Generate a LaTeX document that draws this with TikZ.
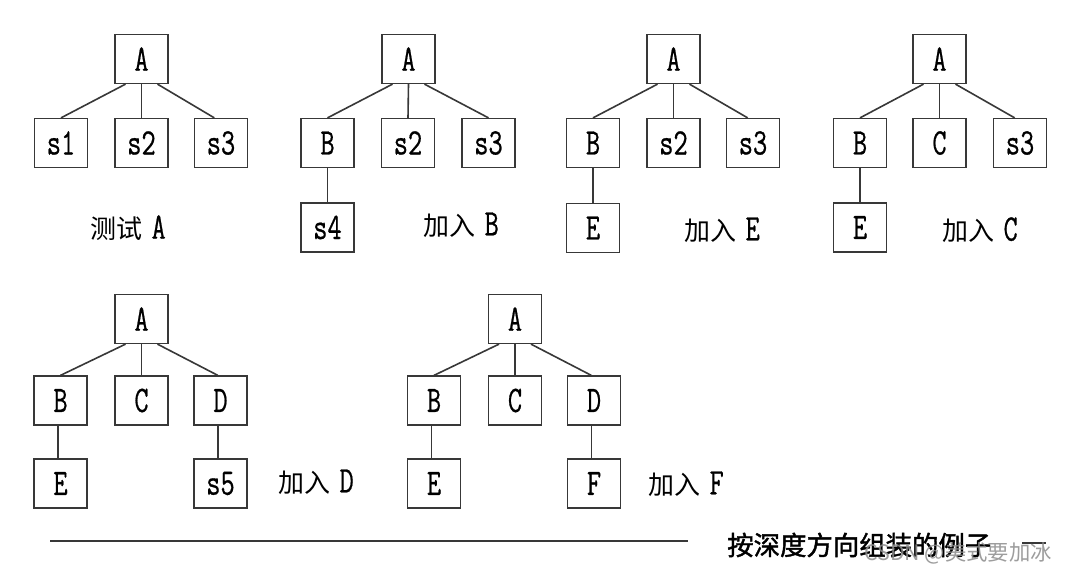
\documentclass[tikz,border=0pt]{standalone}
\usepackage{fontspec}
\usepackage{graphicx}
\newfontfamily\cjk{Noto Sans CJK SC}
\newfontfamily\cjkb[FakeBold=1.5]{Noto Sans CJK SC}
\newfontfamily\boxfont[FakeBold=0.7]{Latin Modern Mono}
\newcommand\bletter[1]{\scalebox{0.74}[1]{\fontsize{28}{28}\selectfont\boxfont #1}}
\tikzset{
  box/.style={draw=black!78, line width=1.2pt, minimum width=40pt, minimum height=36.5pt, inner sep=0pt, fill=white},
  edge/.style={draw=black!78, line width=1.2pt},
  lab/.style={inner sep=0pt, font=\cjk\fontsize{19.5}{20}\selectfont},
}
\newcommand\gap{\hspace{7pt}}
\begin{document}
\begin{tikzpicture}[x=0.75pt, y=-0.75pt]
\path[use as bounding box, fill=white] (0,0) rectangle (1068,572);

% ---- Tree 1: 测试 A
\node[box] (t1a)  at (141.5,59)  {\bletter{A}};
\node[box] (t1s1) at (61,143)    {\bletter{s1}};
\node[box] (t1s2) at (141.5,143) {\bletter{s2}};
\node[box] (t1s3) at (221,143)   {\bletter{s3}};
\draw[edge] ([xshift=-12pt]t1a.south) -- (t1s1.north);
\draw[edge] (t1a.south) -- (t1s2.north);
\draw[edge] ([xshift=12pt]t1a.south) -- ([xshift=-5pt]t1s3.north);
\node[lab] (t1l) at (128,228) {测试\gap\bletter{A}};

% ---- Tree 2: 加入 B
\node[box] (t2a)  at (408.5,59)  {\bletter{A}};
\node[box] (t2b)  at (327.5,143) {\bletter{B}};
\node[box] (t2s2) at (408,143)   {\bletter{s2}};
\node[box] (t2s3) at (488.5,143) {\bletter{s3}};
\node[box] (t2s4) at (327.5,227.5) {\bletter{s4}};
\draw[edge] ([xshift=-12pt]t2a.south) -- (t2b.north);
\draw[edge] (t2a.south) -- (t2s2.north);
\draw[edge] ([xshift=12pt]t2a.south) -- (t2s3.north);
\draw[edge] (t2b.south) -- (t2s4.north);
\node[lab] (t2l) at (461,225) {加入\gap\bletter{B}};

% ---- Tree 3: 加入 E
\node[box] (t3a)  at (673.5,59)  {\bletter{A}};
\node[box] (t3b)  at (593,143)   {\bletter{B}};
\node[box] (t3s2) at (673.5,143) {\bletter{s2}};
\node[box] (t3s3) at (753,143)   {\bletter{s3}};
\node[box] (t3e)  at (593,228)   {\bletter{E}};
\draw[edge] ([xshift=-12pt]t3a.south) -- (t3b.north);
\draw[edge] (t3a.south) -- (t3s2.north);
\draw[edge] ([xshift=12pt]t3a.south) -- ([xshift=-4pt]t3s3.north);
\draw[edge] (t3b.south) -- (t3e.north);
\node[lab] (t3l) at (722,230) {加入\gap\bletter{E}};

% ---- Tree 4: 加入 C
\node[box] (t4a)  at (939.5,59)  {\bletter{A}};
\node[box] (t4b)  at (860,143)   {\bletter{B}};
\node[box] (t4c)  at (939.5,143) {\bletter{C}};
\node[box] (t4s3) at (1020,143)  {\bletter{s3}};
\node[box] (t4e)  at (860,227.5) {\bletter{E}};
\draw[edge] ([xshift=-12pt]t4a.south) -- (t4b.north);
\draw[edge] (t4a.south) -- (t4c.north);
\draw[edge] ([xshift=12pt]t4a.south) -- ([xshift=-4pt]t4s3.north);
\draw[edge] (t4b.south) -- (t4e.north);
\node[lab] (t4l) at (980,230) {加入\gap\bletter{C}};

% ---- Tree 5: 加入 D
\node[box] (t5a)  at (141.5,319)   {\bletter{A}};
\node[box] (t5b)  at (60.5,400.5)  {\bletter{B}};
\node[box] (t5c)  at (141.5,400.5) {\bletter{C}};
\node[box] (t5d)  at (220.5,400.5) {\bletter{D}};
\node[box] (t5e)  at (60.5,483.5)  {\bletter{E}};
\node[box] (t5s5) at (220.5,483.5) {\bletter{s5}};
\draw[edge] ([xshift=-12pt]t5a.south) -- (t5b.north);
\draw[edge] (t5a.south) -- (t5c.north);
\draw[edge] ([xshift=12pt]t5a.south) -- ([xshift=-2pt]t5d.north);
\draw[edge] ([xshift=-2pt]t5b.south) -- ([xshift=-2pt]t5e.north);
\draw[edge] ([xshift=-2pt]t5d.south) -- ([xshift=-2pt]t5s5.north);
\node[lab] (t5l) at (316,482) {加入\gap\bletter{D}};

% ---- Tree 6: 加入 F
\node[box] (t6a)  at (515,319)   {\bletter{A}};
\node[box] (t6b)  at (434,400.5) {\bletter{B}};
\node[box] (t6c)  at (515,400.5) {\bletter{C}};
\node[box] (t6d)  at (594,400.5) {\bletter{D}};
\node[box] (t6e)  at (434,483.5) {\bletter{E}};
\node[box] (t6f)  at (594,483.5) {\bletter{F}};
\draw[edge] ([xshift=-12pt]t6a.south) -- (t6b.north);
\draw[edge] (t6a.south) -- (t6c.north);
\draw[edge] ([xshift=12pt]t6a.south) -- ([xshift=-2pt]t6d.north);
\draw[edge] ([xshift=-2pt]t6b.south) -- ([xshift=-2pt]t6e.north);
\draw[edge] ([xshift=-2pt]t6d.south) -- ([xshift=-2pt]t6f.north);
\node[lab] (t6l) at (686,484) {加入\gap\bletter{F}};

% ---- caption
\coordinate (r1) at (50,541);
\coordinate (r2) at (688,541);
\draw[edge] (r1) -- (r2);
\node[inner sep=0pt, anchor=west, font=\cjkb\fontsize{19.8}{20}\selectfont] (cap) at (727,545) {按深度方向组装的例子};
\coordinate (d1) at (1022,543);
\coordinate (d2) at (1046,543);
\draw[edge] (d1) -- (d2);
\node[inner sep=0pt, anchor=east, text=black!45, opacity=0.85, font=\cjk\fontsize{16}{17}\selectfont] (wm) at (1052,553) {CSDN @美式要加冰};
\end{tikzpicture}
\end{document}
